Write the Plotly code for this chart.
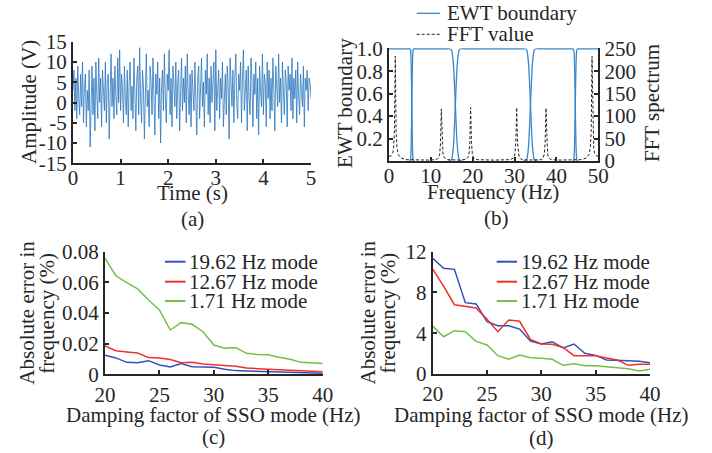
import numpy as np
import plotly.graph_objects as go

W, H = 712, 453
FONT = "Liberation Serif, Times New Roman, serif"
AX = "#262626"
FS = 21

# ---------------- (a) time-domain signal, sampled at 50 Hz over 5 s ----------------
SAMPLE_RATE_HZ = 50
AMPLITUDE_V = [
    3, 8, -2, 6, -4, 9, 1, -3, 7, -1, 10, -5, 4, 7, -6, 3, -2, 8, -11, 5, 9, -3, 6, -7, 10,
    2, -4, 11, 0, 6, -6, 8, 3, -2, 10, -5, 5, 7, -9, 4, 12, -1, 6, -4, 9, 2, -3, 11, 0, 13,
    -2, 7, 3, -5, 9, 1, -3, 8, -6, 5, 10, -2, 4, -4, 11, 2, -7, 6, 9, -3, 13.5, 1, -5, 8, 4,
    -9, 6, 12, -1, 3, -6, 9, 5, -3, 11, 0, -8, 7, 2, 10, -4, 6, -10, 4, 8, -2, 12, 1, -5, 7,
    3, 13, -3, 6, -6, 9, 2, -1, 10, -4, 5, 8, -7, 3, 11, -2, 6, 0, 9, -5, 12, 2, -3, 7, -6,
    8, 4, -2, 10, 1, -8, 6, 9, -4, 3, 11, -1, 5, -6, 8, 2, 12, -3, 6, -5, 9, 0, 4, 10, -7,
    13, -2, 5, 8, -4, 6, 1, 10, -6, 3, 7, -3, 9, 4, -9, 11, 2, -1, 8, -5, 6, 12, 0, -4, 7,
    3, 10, -5, 6, 13, -2, 4, 8, -7, 9, 1, -3, 11, 5, -6, 7, 2, 10, -4, 6, -8, 9, 3, -1, 12,
    -3, 7, 5, -6, 10, 1, 8, -4, 6, -2, 11, 3, -7, 9, 4, -1, 12, 0, 6, -5, 10, 2, -3, 8, 5,
    -6, 9, 3, 7, -2, 11, -4, 6, 1, 8, -5, 10, 2, -3, 7, 4, -1, 9, -6, 6, 3, 8, -2, 6, 5, 1,
]
TIME_S = np.arange(len(AMPLITUDE_V)) / SAMPLE_RATE_HZ

# ---------------- (b) EWT boundaries and FFT spectrum ----------------
EWT_BOUNDS_HZ = [5.45, 15.85, 33.8, 44.5]
EWT_HALF_WIDTH_HZ = [0.6, 1.8, 1.8, 0.7]
TRANSITION_T = [0, 0.125, 0.25, 0.375, 0.5, 0.625, 0.75, 0.875, 1]
TRANSITION_FALL = [1, 1.0, 0.988, 0.861, 0.5, 0.139, 0.012, 0.0, 0]

FFT_FREQ_HZ = [0, 0.5, 0.9, 1.1, 1.3, 1.5, 1.7, 1.9, 2.2, 2.8,
               4, 7, 10, 11.5, 11.9, 12.1, 12.3, 12.5, 12.7, 12.9,
               13.2, 14, 17, 18.5, 18.9, 19.1, 19.3, 19.5, 19.7, 19.9,
               20.2, 21, 25, 29, 29.8, 30.1, 30.3, 30.5, 30.7, 30.9,
               31.1, 31.5, 33, 36.5, 36.8, 37.1, 37.3, 37.5, 37.7, 37.9,
               38.1, 38.5, 40, 43, 46, 47.2, 47.8, 48.1, 48.3, 48.5,
               48.7, 48.9, 49.1, 49.5, 50]
FFT_VALUE = [10, 12, 18, 28, 70, 233, 65, 30, 15, 7,
             3, 2, 2, 4, 8, 15, 38, 116, 40, 15,
             7, 3, 2, 4, 8, 15, 40, 119, 42, 16,
             7, 3, 2, 3, 7, 16, 42, 119, 40, 15,
             8, 4, 2, 3, 7, 15, 40, 118, 38, 15,
             8, 4, 2, 2, 3, 7, 15, 30, 65, 233,
             70, 28, 18, 12, 10]

# ---------------- (c), (d) absolute frequency errors ----------------
DAMPING_HZ = [20, 21, 22, 23, 24, 25, 26, 27, 28, 29, 30, 31, 32, 33, 34, 35, 36, 37, 38, 39, 40]
MODE_NAMES = ["19.62 Hz mode", "12.67 Hz mode", "1.71 Hz mode"]
C_ERR = [
    [0.0124, 0.0107, 0.0078, 0.0076, 0.0089, 0.0061, 0.0048, 0.0070, 0.0050, 0.0048, 0.0046,
     0.0033, 0.0024, 0.0022, 0.0020, 0.0017, 0.0017, 0.0015, 0.0013, 0.0011, 0.0007],
    [0.0185, 0.0154, 0.0146, 0.0139, 0.0109, 0.0107, 0.0096, 0.0076, 0.0078, 0.0067, 0.0063,
     0.0059, 0.0052, 0.0041, 0.0035, 0.0033, 0.0030, 0.0026, 0.0020, 0.0020, 0.0017],
    [0.0757, 0.0643, 0.0598, 0.0557, 0.0485, 0.0420, 0.0289, 0.0337, 0.0326, 0.0278, 0.0191,
     0.0170, 0.0174, 0.0137, 0.0130, 0.0128, 0.0111, 0.0098, 0.0078, 0.0072, 0.0070],
]
D_ERR = [
    [11.35, 10.37, 10.27, 7.0, 6.87, 5.13, 4.74, 4.74, 4.41, 3.24, 2.94, 3.17, 2.55, 2.94,
     2.03, 1.83, 1.37, 1.37, 1.31, 1.24, 1.11],
    [10.3, 8.63, 6.8, 6.6, 6.47, 5.36, 4.15, 5.3, 5.17, 3.4, 2.94, 2.91, 2.6, 1.8, 1.8, 1.8,
     1.57, 1.37, 0.85, 0.95, 0.95],
    [4.7, 3.66, 4.25, 4.15, 3.2, 2.85, 1.8, 1.44, 1.86, 1.6, 1.54, 1.44, 0.85, 1.01, 0.82,
     0.82, 0.72, 0.62, 0.52, 0.29, 0.46],
]
MODE_COLORS = ["#3052b8", "#f0302c", "#72c04a"]


def px(x):
    return x / W


def py(y):
    return 1 - y / H


fig = go.Figure()

# (a)
fig.add_trace(go.Scatter(x=TIME_S, y=AMPLITUDE_V, mode="lines", xaxis="x", yaxis="y",
                         line=dict(color="#2a76bd", width=0.8), showlegend=False))

# (b) EWT filters built from boundaries and the tabulated transition shape
t_arr = np.array(TRANSITION_T)
fall = np.array(TRANSITION_FALL)
n_filters = len(EWT_BOUNDS_HZ) + 1
for k in range(n_filters):
    xs, ys = [], []
    if k == 0:
        xs += [0.0]
        ys += [1.0]
    else:
        b, w = EWT_BOUNDS_HZ[k - 1], EWT_HALF_WIDTH_HZ[k - 1]
        xs += list(b - w + 2 * w * t_arr)
        ys += list(1 - fall)
    if k == n_filters - 1:
        xs += [50.0]
        ys += [1.0]
    else:
        b, w = EWT_BOUNDS_HZ[k], EWT_HALF_WIDTH_HZ[k]
        xs += list(b - w + 2 * w * t_arr)
        ys += list(fall)
    fig.add_trace(go.Scatter(x=xs, y=ys, mode="lines", xaxis="x2", yaxis="y2",
                             line=dict(color="#3a86c8", width=1.3, shape="spline", smoothing=0.6),
                             showlegend=False))

fig.add_trace(go.Scatter(x=FFT_FREQ_HZ, y=FFT_VALUE, mode="lines", xaxis="x2", yaxis="y3",
                         line=dict(color="#222222", width=1, dash="3px,2px"), showlegend=False))

# (c), (d)
for i in range(3):
    fig.add_trace(go.Scatter(x=DAMPING_HZ, y=C_ERR[i], mode="lines", xaxis="x3", yaxis="y4",
                             line=dict(color=MODE_COLORS[i], width=1.5), showlegend=False))
    fig.add_trace(go.Scatter(x=DAMPING_HZ, y=D_ERR[i], mode="lines", xaxis="x4", yaxis="y5",
                             line=dict(color=MODE_COLORS[i], width=1.5), showlegend=False))

tickfont = dict(family=FONT, size=FS, color=AX)


def axis(**kw):
    base = dict(showline=True, linecolor=AX, linewidth=2, ticks="inside", ticklen=4,
                tickwidth=1.5, tickcolor=AX, showgrid=False, zeroline=False,
                tickfont=tickfont, fixedrange=True, automargin=False)
    base.update(kw)
    return base


layout = dict(
    width=W, height=H, margin=dict(l=0, r=0, t=0, b=0, autoexpand=False),
    paper_bgcolor="white", plot_bgcolor="white", showlegend=False,
    font=dict(family=FONT, size=FS, color=AX),
    xaxis=axis(domain=[px(73), px(311)], anchor="y", range=[0, 5],
               tickvals=[0, 1, 2, 3, 4, 5], ticklabelstandoff=-6),
    yaxis=axis(domain=[py(163.3), py(41.7)], anchor="x", range=[-15, 15],
               tickvals=[-15, -10, -5, 0, 5, 10, 15],
               ticktext=["-15", "-10", "-5", "0", "5", "10", "15"]),
    xaxis2=axis(domain=[px(389), px(598.3)], anchor="y2", range=[0, 50],
                tickvals=[0, 10, 20, 30, 40, 50], ticklabelstandoff=-5),
    yaxis2=axis(domain=[py(161), py(48.3)], anchor="x2", range=[0, 1.004],
                tickvals=[0.2, 0.4, 0.6, 0.8, 1.0],
                ticktext=["0.2", "0.4", "0.6", "0.8", "1.0"]),
    yaxis3=axis(domain=[py(161), py(48.3)], anchor="x2", overlaying="y2", side="right",
                range=[0, 251], tickvals=[0, 50, 100, 150, 200, 250]),
    xaxis3=axis(domain=[px(105), px(322.7)], anchor="y4", range=[20, 40],
                tickvals=[20, 25, 30, 35, 40]),
    yaxis4=axis(domain=[py(374.3), py(251.7)], anchor="x3", range=[0, 0.08],
                tickvals=[0, 0.02, 0.04, 0.06, 0.08],
                ticktext=["0", "0.02", "0.04", "0.06", "0.08"]),
    xaxis4=axis(domain=[px(432.7), px(650)], anchor="y5", range=[20, 40],
                tickvals=[20, 25, 30, 35, 40]),
    yaxis5=axis(domain=[py(374), py(251.7)], anchor="x4", range=[0, 12],
                tickvals=[0, 4, 8, 12]),
)

ann = []


def text(x, y, s, angle=0, xanchor="center"):
    ann.append(dict(x=px(x), y=py(y), xref="paper", yref="paper", text=s, showarrow=False,
                    textangle=angle, xanchor=xanchor, yanchor="middle",
                    font=dict(family=FONT, size=FS, color=AX)))


# (a)
text(192, 193.3, "Time (s)")
text(29, 102, "Amplitude (V)", -90)
text(192, 219, "(a)")
# (b)
text(345, 103, "EWT boundary", -90)
text(652, 103, "FFT spectrum", -90)
text(493.3, 191.7, "Frequency (Hz)")
text(497, 218, "(b)")
text(445, 13.3, "EWT boundary", xanchor="left")
text(445, 34.3, "FFT value", xanchor="left")
# (c)
text(26.7, 313, "Absolute error in", -90)
text(46.7, 313, "frequency (%)", -90)
text(213.7, 415, "Damping factor of SSO mode (Hz)")
text(213, 436.7, "(c)")
# (d)
text(367.5, 313, "Absolute error in", -90)
text(387.5, 313, "frequency (%)", -90)
text(541.7, 415, "Damping factor of SSO mode (Hz)")
text(541.7, 438, "(d)")

shapes = [
    dict(type="line", xref="paper", yref="paper", x0=px(416.7), x1=px(440), y0=py(13.3),
         y1=py(13.3), line=dict(color="#3a86c8", width=1.3)),
    dict(type="line", xref="paper", yref="paper", x0=px(416.7), x1=px(440), y0=py(34.3),
         y1=py(34.3), line=dict(color="#222222", width=1, dash="3px,2px")),
]
legend_rows = [261.7, 281.7, 301]
for i in range(3):
    for (lx0, lx1, tx) in [(165, 185.5, 186.7), (496.7, 517, 519.3)]:
        shapes.append(dict(type="line", xref="paper", yref="paper", x0=px(lx0), x1=px(lx1),
                           y0=py(legend_rows[i]), y1=py(legend_rows[i]),
                           line=dict(color=MODE_COLORS[i], width=2)))
        text(tx, legend_rows[i], MODE_NAMES[i], xanchor="left")

layout["annotations"] = ann
layout["shapes"] = shapes
fig.update_layout(**layout)
fig.write_html("out.html", config={"displayModeBar": False},
               post_script="document.body.style.margin='0';document.body.style.padding='0';")
